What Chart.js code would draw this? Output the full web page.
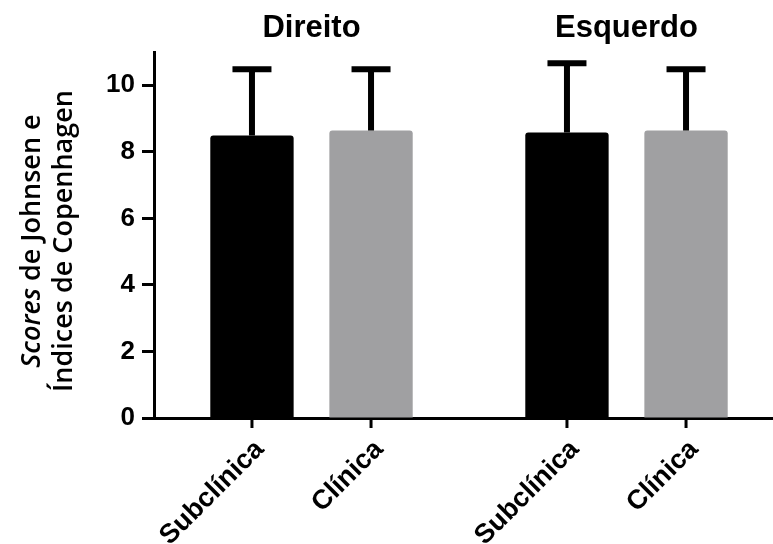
<!DOCTYPE html>
<html>
<head>
<meta charset="utf-8">
<script src="https://cdn.jsdelivr.net/npm/chart.js@4.4.1/dist/chart.umd.min.js"></script>
<style>
  html, body { margin: 0; padding: 0; background: #ffffff; overflow: hidden; width: 773px; height: 544px; }
  #wrap { position: relative; width: 800px; height: 544px; }
</style>
</head>
<body>
<div id="wrap"><canvas id="c" width="800" height="544"></canvas></div>
<script>
// ---- data ----
const groups = ['Direito', 'Esquerdo'];
const conditions = ['Subclínica', 'Clínica'];
const subclinicaMean = [8.49, 8.58];
const subclinicaSD = [1.99, 2.08];
const clinicaMean = [8.64, 8.64];
const clinicaSD = [1.84, 1.84];
const yMin = 0, yMax = 11, yStep = 2;
const yTitleLine1Italic = 'Scores';
const yTitleLine1Rest = ' de Johnsen e';
const yTitleLine2 = 'Índices de Copenhagen';

const BLACK = '#000000';
const GREY = '#a0a0a2';
const labelFont = 'bold 27px "Liberation Sans", Arial, sans-serif';

const errorBars = {
  id: 'errorBars',
  afterDatasetsDraw(chart) {
    const ctx = chart.ctx;
    const y = chart.scales.y;
    chart.data.datasets.forEach((ds, di) => {
      const meta = chart.getDatasetMeta(di);
      meta.data.forEach((el, i) => {
        const top = y.getPixelForValue(ds.data[i] + ds.sd[i]);
        ctx.save();
        ctx.strokeStyle = BLACK;
        ctx.lineWidth = 6;
        ctx.lineCap = 'butt';
        ctx.beginPath();
        ctx.moveTo(el.x, el.y);
        ctx.lineTo(el.x, top);
        ctx.moveTo(el.x - 19.5, top);
        ctx.lineTo(el.x + 19.5, top);
        ctx.stroke();
        ctx.restore();
      });
    });
  }
};

const barLabels = {
  id: 'barLabels',
  afterDraw(chart) {
    const ctx = chart.ctx;
    const xs = chart.scales.x;
    const axisY = xs.top;
    chart.data.datasets.forEach((ds, di) => {
      const meta = chart.getDatasetMeta(di);
      meta.data.forEach((el) => {
        ctx.save();
        ctx.strokeStyle = BLACK;
        ctx.lineWidth = 3;
        ctx.beginPath();
        ctx.moveTo(el.x, axisY);
        ctx.lineTo(el.x, axisY + 10);
        ctx.stroke();
        ctx.translate(el.x + 8, axisY + 27);
        ctx.rotate(-Math.PI / 4);
        ctx.font = labelFont;
        ctx.fillStyle = BLACK;
        ctx.textAlign = 'right';
        ctx.textBaseline = 'middle';
        ctx.fillText(ds.label, 0, 0);
        ctx.restore();
      });
    });
  }
};

const yTitle = {
  id: 'yTitle',
  afterDraw(chart) {
    const ctx = chart.ctx;
    const area = chart.chartArea;
    const cy = (area.top + area.bottom) / 2 + 6;
    ctx.save();
    ctx.fillStyle = BLACK;
    ctx.textBaseline = 'middle';
    ctx.textAlign = 'left';
    const italic = 'italic 600 27px "Open Sans", sans-serif';
    const normal = '600 27px "Open Sans", sans-serif';
    // line 1
    ctx.save();
    ctx.translate(32, cy);
    ctx.rotate(-Math.PI / 2);
    ctx.font = italic;
    const w1 = ctx.measureText(yTitleLine1Italic).width;
    ctx.font = normal;
    const w2 = ctx.measureText(yTitleLine1Rest).width;
    const x0 = -(w1 + w2) / 2;
    ctx.font = italic;
    ctx.fillText(yTitleLine1Italic, x0, 0);
    ctx.font = normal;
    ctx.fillText(yTitleLine1Rest, x0 + w1, 0);
    ctx.restore();
    // line 2
    ctx.save();
    ctx.translate(64, cy);
    ctx.rotate(-Math.PI / 2);
    ctx.font = normal;
    ctx.textAlign = 'center';
    ctx.fillText(yTitleLine2, 0, 0);
    ctx.restore();
    ctx.restore();
  }
};

new Chart(document.getElementById('c'), {
  type: 'bar',
  data: {
    labels: groups,
    datasets: [
      { label: conditions[0], data: subclinicaMean, sd: subclinicaSD, backgroundColor: BLACK, borderRadius: 3, borderSkipped: 'start' },
      { label: conditions[1], data: clinicaMean, sd: clinicaSD, backgroundColor: GREY, borderRadius: 3, borderSkipped: 'start' }
    ]
  },
  options: {
    responsive: false,
    animation: false,
    devicePixelRatio: 1,
    categoryPercentage: 0.756,
    barPercentage: 0.70,
    layout: { padding: { left: 0, right: 16, top: 0, bottom: 0 } },
    plugins: { legend: { display: false }, tooltip: { enabled: false }, title: { display: false } },
    scales: {
      x: {
        position: 'bottom',
        grid: { display: false },
        border: { display: true, color: BLACK, width: 3 },
        ticks: { display: false },
        afterFit(s) { s.height = 126; }
      },
      xTop: {
        type: 'category',
        position: 'top',
        labels: groups,
        offset: true,
        grid: { display: false },
        border: { display: false },
        ticks: { color: BLACK, font: { family: '"Liberation Sans", Arial, sans-serif', size: 31, weight: 'bold' }, padding: -3, maxRotation: 0 },
        afterFit(s) { s.height = 52; }
      },
      y: {
        min: yMin,
        max: yMax,
        grid: { display: true, drawOnChartArea: false, drawTicks: true, tickLength: 12, tickWidth: 3, tickColor: BLACK },
        border: { display: true, color: BLACK, width: 3 },
        ticks: { stepSize: yStep, includeBounds: false, color: BLACK, padding: 7, font: { family: '"Liberation Sans", Arial, sans-serif', size: 26, weight: 'bold' } },
        afterFit(s) { s.width = 154; }
      }
    }
  },
  plugins: [errorBars, barLabels, yTitle]
});
</script>
</body>
</html>
